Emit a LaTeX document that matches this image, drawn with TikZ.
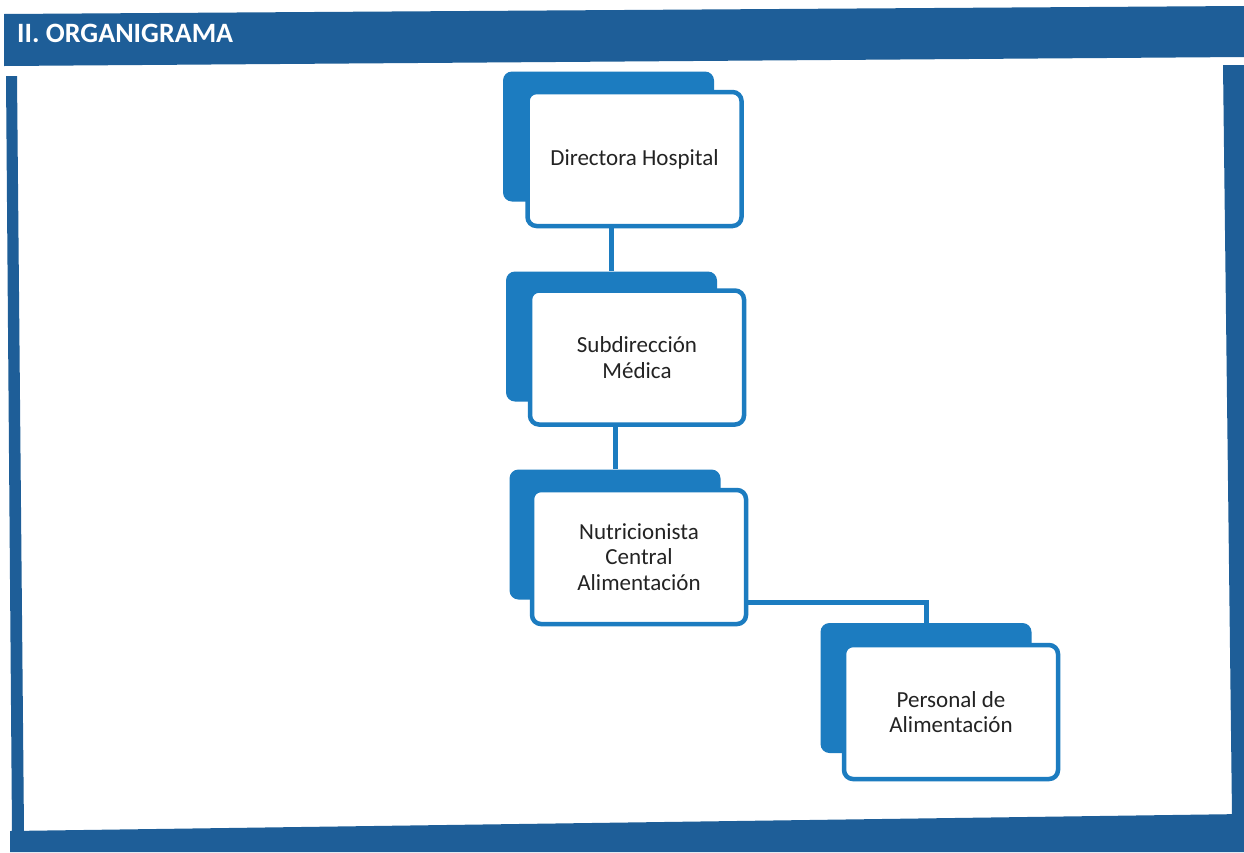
\documentclass[tikz,border=0pt]{standalone}
\usepackage{fontspec}
\setmainfont{Carlito}
\definecolor{frameblue}{RGB}{30,94,152}
\definecolor{boxblue}{RGB}{28,124,192}
\definecolor{inkgray}{RGB}{35,35,35}
\begin{document}
\begin{tikzpicture}[x=1pt,y=-1pt,
  backbox/.style={fill=boxblue,draw=none,rounded corners=9pt,
    minimum width=211pt,minimum height=130pt,inner sep=0pt},
  frontbox/.style={fill=white,draw=boxblue,line width=4.5pt,rounded corners=9pt,
    minimum width=214pt,minimum height=134pt,align=center,text=inkgray,
    font=\fontsize{23pt}{25.5pt}\selectfont,inner sep=0pt},
  link/.style={draw=boxblue,line width=5pt}]
\useasboundingbox (0,0) rectangle (1244,852);
\fill[white] (0,0) rectangle (1244,852);

% page frame: title band, side rules and bottom band
\fill[frameblue] (4,14) -- (1244,6) -- (1244,57) -- (4,66) -- cycle;
\fill[frameblue] (6,76) -- (17,76) -- (24,831) -- (12,831) -- cycle;
\fill[frameblue] (1223,65) -- (1244,65) -- (1244,816) -- (1232,816) -- cycle;
\fill[frameblue] (10,831) -- (1244,814) -- (1244,852) -- (10,852) -- cycle;
\node[anchor=base west,text=white,font=\bfseries\fontsize{28pt}{28pt}\selectfont,
  inner sep=0pt] (title) at (17,42) {II. ORGANIGRAMA};

% organisation chart
\node[backbox] (b1back) at (608.5,136.5) {};
\node[frontbox] (b1) at (634.5,159) {Directora Hospital};

\node[backbox] (b2back) at (611.5,336.5) {};
\node[frontbox] (b2) at (637,357.5) {Subdirección\\Médica};

\node[backbox] (b3back) at (615,534.5) {};
\node[frontbox] (b3) at (639,557) {Nutricionista\\Central\\Alimentación};

\node[backbox] (b4back) at (926,688) {};
\node[frontbox] (b4) at (951,712) {Personal de\\Alimentación};

\draw[link] (b1.south -| b2back.north) -- (b2back.north);
\draw[link] (b2.south -| b3back.north) -- (b3back.north);
\draw[link] ([yshift=-45pt]b3.east) -| (b4back.north);
\end{tikzpicture}
\end{document}
